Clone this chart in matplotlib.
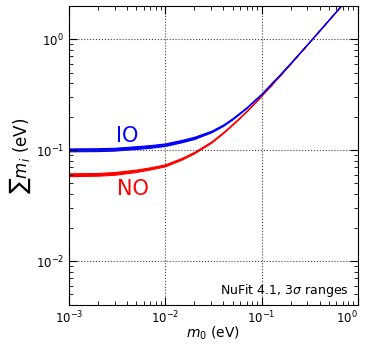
import numpy as np
import matplotlib.pyplot as plt

# lightest neutrino mass (eV) and sum of masses (eV)
m0 = [0.001, 0.002, 0.003, 0.005, 0.007, 0.01, 0.015, 0.02, 0.03, 0.04,
      0.05, 0.07, 0.1, 0.15, 0.2, 0.3, 0.5, 0.7]
no_lo = [0.0582, 0.0588, 0.0600, 0.0635, 0.0670, 0.0715, 0.0825, 0.0935, 0.1165, 0.1425,
         0.1695, 0.2235, 0.3095, 0.4555, 0.6030, 0.9010, 1.4990, 2.0980]
no_hi = [0.0618, 0.0622, 0.0635, 0.0668, 0.0700, 0.0745, 0.0855, 0.0965, 0.1195, 0.1455,
         0.1725, 0.2265, 0.3125, 0.4585, 0.6070, 0.9050, 1.5030, 2.1020]
io_lo = [0.0975, 0.0980, 0.0990, 0.1025, 0.1050, 0.1090, 0.1180, 0.1260, 0.1445, 0.1655,
         0.1895, 0.2395, 0.3195, 0.4635, 0.6095, 0.9060, 1.5020, 2.0990]
io_hi = [0.1035, 0.1040, 0.1050, 0.1085, 0.1110, 0.1150, 0.1240, 0.1320, 0.1495, 0.1705,
         0.1945, 0.2445, 0.3245, 0.4685, 0.6145, 0.9100, 1.5060, 2.1030]

fig = plt.figure(figsize=(3.67, 3.44), dpi=100)
ax = fig.add_axes([0.188, 0.113, 0.787, 0.870])

ax.fill_between(m0, no_lo, no_hi, color='red', lw=0.8, edgecolor='red')
ax.fill_between(m0, io_lo, io_hi, color='blue', lw=0.8, edgecolor='blue')

ax.set_xscale('log')
ax.set_yscale('log')
ax.set_xlim(1e-3, 1)
ax.set_ylim(4e-3, 2)

ax.grid(True, which='major', color='0.25', linestyle=':', linewidth=0.8)
ax.tick_params(which='both', direction='in', top=True, right=True, labelsize=8.5)
ax.tick_params(which='major', length=6)
ax.tick_params(which='minor', length=3)
ax.tick_params(axis='x', pad=3)

ax.text(3.1e-3, 0.118, 'IO', color='blue', fontsize=15)
ax.text(3.16e-3, 0.0394, 'NO', color='red', fontsize=15)
ax.text(0.805, 0.00505, r'NuFit 4.1, 3$\sigma$ ranges', ha='right', fontsize=9)

ax.set_xlabel(r'$m_0$ (eV)', fontsize=10, labelpad=-1)
ax.set_ylabel(r'$\sum m_i$ (eV)', fontsize=12, labelpad=2)

fig.canvas.draw()
xlabels = ax.get_xticklabels()
for lab in xlabels:
    if abs(lab.get_position()[0] - 1.0) < 1e-9:
        lab.set_horizontalalignment('right')

fig.savefig('out.png', dpi=100)
